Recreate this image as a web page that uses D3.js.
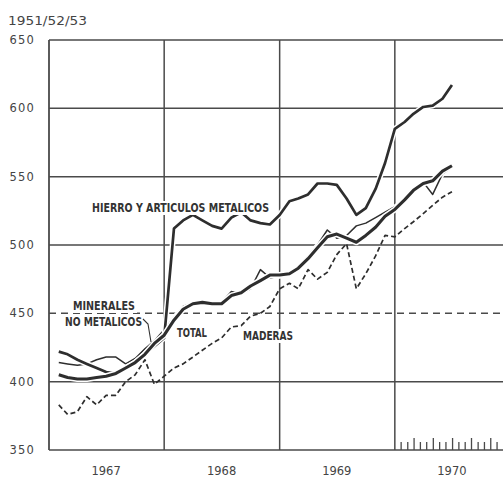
<!DOCTYPE html>
<meta charset="utf-8">
<style>
  body{margin:0;background:#fff;}
  svg{display:block;}
  .num{font-family:"DejaVu Sans",sans-serif;font-size:11.5px;fill:#444;}
  .lab{font-family:"DejaVu Sans Condensed","Liberation Sans Narrow",sans-serif;font-weight:bold;font-size:13px;fill:#333;}
</style>
<svg width="503" height="477"></svg>
<script src="https://cdn.jsdelivr.net/npm/d3@7"></script>
<script>
// indices mensuales, feb 1967 - jul 1970 (base 1951/52/53)
var yTicks=[350,400,450,500,550,600,650];
var years=[1967,1968,1969,1970];
var total    =[405,403,402,402,403,404,406,410,414,420,428,434, 445,453,457,458,457,457,463,465,470,474,478,478, 479,483,490,498,506,508,505,502,507,513,521,526, 533,540,545,547,554,558];
var hierro   =[422,420,416,413,410,407,406,409,414,420,426,432, 512,518,522,518,514,512,520,524,518,516,515,522, 532,534,537,545,545,544,534,522,527,541,560,585, 590,596,601,602,607,617];
var minerales=[414,413,412,413,416,418,418,413,417,424,430,438, 447,455,458,459,458,458,466,464,468,482,476,477, 478,484,492,500,511,505,507,514,516,520,524,528, 533,540,546,537,552,557];
var maderas  =[383,376,378,389,383,390,390,400,405,416,398,404, 410,413,418,423,428,432,440,441,448,450,455,468, 472,468,482,475,480,493,501,468,479,492,507,506, 512,517,523,529,535,539];
var months=d3.timeMonth.range(new Date(1967,1,1),new Date(1970,7,1));

var svg=d3.select("svg");
var x0=49,x1=503,y0=40,y1=450;
var x=d3.scaleTime().domain([new Date(1967,0,1),new Date(1971,0,1)]).range([49,510]);
var y=d3.scaleLinear().domain([350,650]).range([450,40]);
var ink="#4a4a4a";

// grid
var grid=svg.append("g");
grid.selectAll("line.h").data(yTicks).enter().append("line")
    .attr("x1",x0).attr("x2",x1)
    .attr("y1",function(d){return y(d);}).attr("y2",function(d){return y(d);})
    .attr("stroke",ink).attr("stroke-width",1.5)
    .attr("stroke-dasharray",function(d){return d==450?"7,5":null;});
grid.selectAll("line.v").data(years).enter().append("line")
    .attr("x1",function(d){return x(new Date(d,0,1));}).attr("x2",function(d){return x(new Date(d,0,1));})
    .attr("y1",y0).attr("y2",y1)
    .attr("stroke",ink).attr("stroke-width",function(d){return d==1967?1.8:1.5;});

// ticks 1970
var small=d3.range(1,18).map(function(i){return d3.timeDay.offset(new Date(1970,0,1),Math.round(i*365/18));});
grid.selectAll("line.t").data(small).enter().append("line")
    .attr("x1",function(d){return x(d);}).attr("x2",function(d){return x(d);})
    .attr("y1",function(d,i){return (i+1)%3==0?y1-12:y1-8;}).attr("y2",y1)
    .attr("stroke",ink).attr("stroke-width",1.3);

// tick labels
svg.append("g").selectAll("text").data(yTicks).enter().append("text")
    .attr("class","num").attr("x",35).attr("y",function(d){return y(d);})
    .attr("dy","0.36em").attr("text-anchor","end").attr("letter-spacing","1.2")
    .text(function(d){return d;});
svg.append("g").selectAll("text").data(years).enter().append("text")
    .attr("class","num").attr("x",function(d){return x(new Date(d,6,1));}).attr("y",475)
    .attr("text-anchor","middle")
    .text(function(d){return d;});
svg.append("text").attr("class","num").attr("x",8).attr("y",25)
    .attr("textLength",79).attr("lengthAdjust","spacingAndGlyphs")
    .text("1951/52/53");

// series
var series=[
    {key:"maderas",values:maderas,w:1.7,dash:"5,3"},
    {key:"minerales",values:minerales,w:1.5},
    {key:"hierro",values:hierro,w:2.7},
    {key:"total",values:total,w:3.1}
];
var line=d3.line().x(function(d,i){return x(months[i]);}).y(function(d){return y(d);});
series.forEach(function(s){
    if(!s.dash){
        svg.append("path").attr("d",line(s.values)).attr("fill","none")
            .attr("stroke","#fff").attr("stroke-width",s.w+3).attr("stroke-linejoin","round");
    }
    svg.append("path").attr("d",line(s.values)).attr("fill","none")
        .attr("stroke","#2e2e2e").attr("stroke-width",s.w)
        .attr("stroke-linejoin","round").attr("stroke-dasharray",s.dash||null);
});

// labels
var labels=[
    {t:"HIERRO Y ARTICULOS METALICOS",x:92,y:212,len:177},
    {t:"MINERALES",x:73,y:310,len:62},
    {t:"NO METALICOS",x:65,y:326,len:77},
    {t:"TOTAL",x:177,y:337,len:30},
    {t:"MADERAS",x:243,y:340,len:50}
];
labels.forEach(function(l){
    var g=svg.append("g");
    var bg=g.append("rect").attr("fill","#fff");
    var t=g.append("text").attr("class","lab").attr("x",l.x).attr("y",l.y)
        .attr("textLength",l.len).attr("lengthAdjust","spacingAndGlyphs").text(l.t);
    var b=t.node().getBBox();
    bg.attr("x",b.x-2).attr("y",b.y+1).attr("width",b.width+4).attr("height",b.height-1);
});
// leader
svg.append("path").attr("d","M143,319 L148,324 L151,342").attr("fill","none")
    .attr("stroke","#333").attr("stroke-width",1.1);
</script>
